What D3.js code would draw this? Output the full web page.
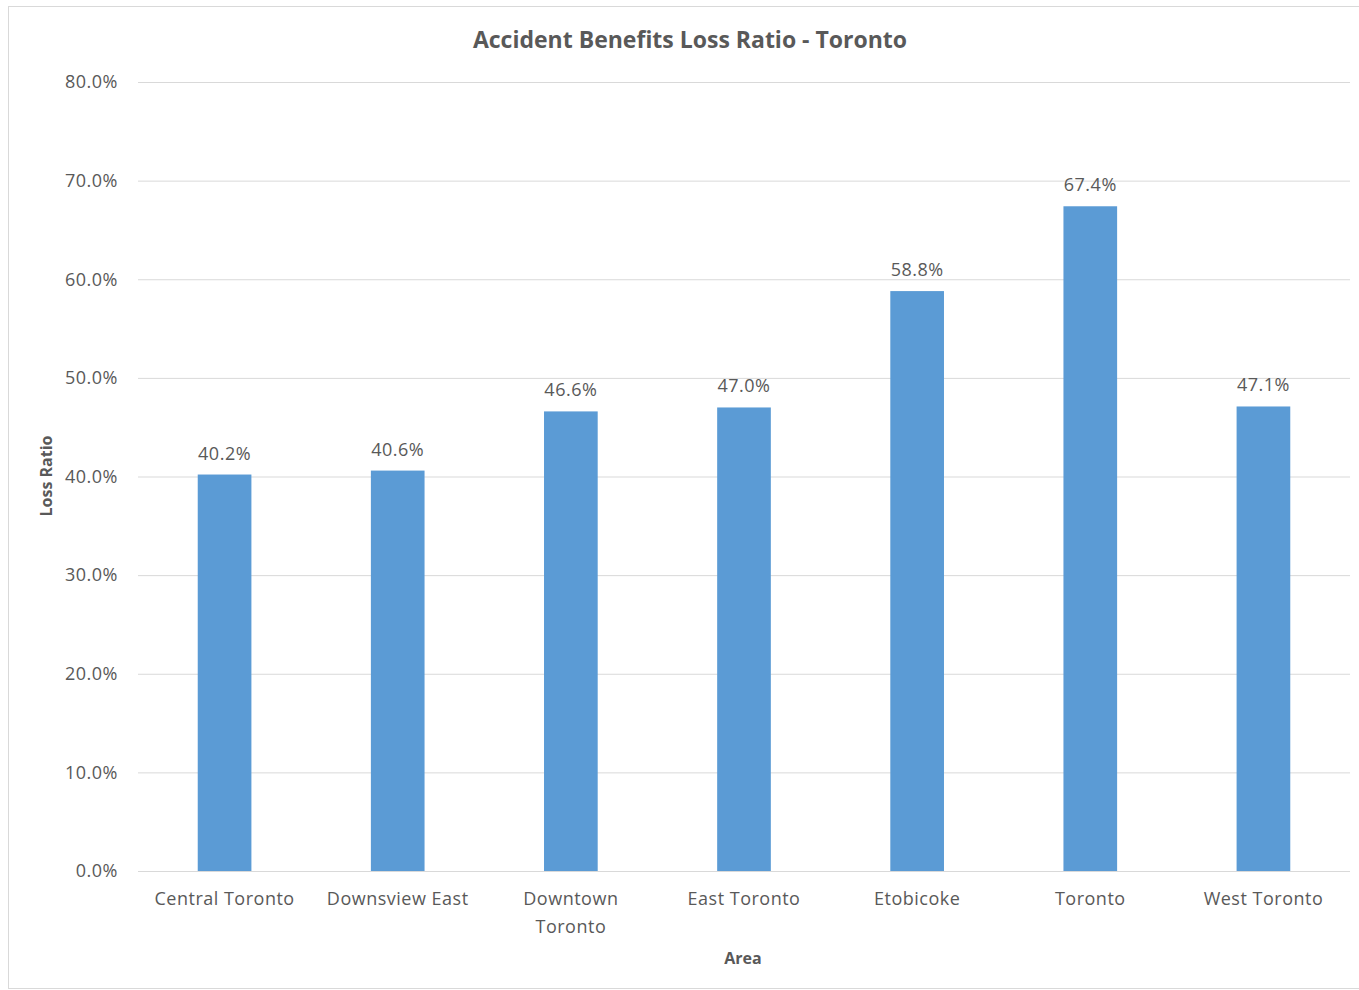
<!DOCTYPE html>
<html>
<head>
<meta charset="utf-8">
<script src="https://cdn.jsdelivr.net/npm/d3@7"></script>
<style>
  html, body { margin: 0; padding: 0; background: #fff; overflow: hidden; }
  svg { display: block; }
  text { font-family: "Open Sans", "Noto Sans", sans-serif; fill: #595959; }
</style>
</head>
<body>
<svg id="chart" width="1359" height="990"></svg>
<script>
// Loss ratio (%) by Toronto area
const areas = ["Central Toronto", "Downsview East", "Downtown Toronto", "East Toronto", "Etobicoke", "Toronto", "West Toronto"];
const lossRatio = [40.2, 40.6, 46.6, 47.0, 58.8, 67.4, 47.1];
const yTicks = [0, 10, 20, 30, 40, 50, 60, 70, 80];

const svg = d3.select("#chart");
const margin = { left: 138, right: 1350, top: 82, bottom: 871 };

// chart frame (right side runs past the page edge)
svg.append("rect")
  .attr("x", 8.5).attr("y", 6.5)
  .attr("width", 1360).attr("height", 982)
  .attr("fill", "#fff").attr("stroke", "#d9d9d9").attr("stroke-width", 1);

const x = d3.scaleBand().domain(areas).range([margin.left, margin.right]).paddingInner(0.69).paddingOuter(0.345);
const y = d3.scaleLinear().domain([0, 80]).range([margin.bottom, margin.top]);

// horizontal gridlines + y tick labels
const yAxis = d3.axisLeft(y).tickValues(yTicks).tickSize(-(margin.right - margin.left)).tickPadding(20)
  .tickFormat(d => d.toFixed(1) + "%");
const gy = svg.append("g").attr("transform", `translate(${margin.left},0)`).call(yAxis);
gy.select(".domain").remove();
gy.selectAll(".tick line").attr("stroke", "#d9d9d9").attr("stroke-width", 1);
gy.selectAll(".tick text").attr("font-size", 18).attr("fill", "#595959")
  .attr("letter-spacing", 0.5)
  .style("font-family", '"Open Sans", sans-serif');

// bars
svg.append("g").selectAll("rect").data(areas).join("rect")
  .attr("x", d => x(d))
  .attr("y", (d, i) => y(lossRatio[i]))
  .attr("width", x.bandwidth())
  .attr("height", (d, i) => y(0) - y(lossRatio[i]))
  .attr("fill", "#5b9bd5");

// value labels
svg.append("g").selectAll("text").data(areas).join("text")
  .attr("x", d => x(d) + x.bandwidth() / 2)
  .attr("y", (d, i) => y(lossRatio[i]) - 15)
  .attr("text-anchor", "middle")
  .attr("font-size", 18)
  .attr("letter-spacing", 0.5)
  .text((d, i) => lossRatio[i].toFixed(1) + "%");

// x axis baseline + category labels (wrapped)
const xAxis = d3.axisBottom(x).tickSize(0).tickPadding(0);
const gx = svg.append("g").attr("transform", `translate(0,${margin.bottom})`).call(xAxis);
gx.select(".domain").attr("stroke", "#d9d9d9").attr("d", `M${margin.left},0.5H${margin.right}`);
gx.selectAll(".tick text").remove();
gx.selectAll(".tick").each(function(d) {
  const lines = d === "Downtown Toronto" ? ["Downtown", "Toronto"] : [d];
  const t = d3.select(this).append("text")
    .attr("text-anchor", "middle")
    .attr("font-size", 18)
    .attr("letter-spacing", 0.5)
    .attr("fill", "#595959");
  lines.forEach((ln, k) => {
    t.append("tspan").attr("x", 0).attr("y", 34 + k * 28).text(ln);
  });
});

// title
svg.append("text")
  .attr("x", 690).attr("y", 48)
  .attr("text-anchor", "middle")
  .attr("font-size", 23)
  .attr("font-weight", "bold")
  .text("Accident Benefits Loss Ratio - Toronto");

// axis titles
svg.append("text")
  .attr("x", 743).attr("y", 964)
  .attr("text-anchor", "middle")
  .attr("font-size", 16)
  .attr("font-weight", "bold")
  .text("Area");

svg.append("text")
  .attr("transform", "translate(52,476) rotate(-90)")
  .attr("text-anchor", "middle")
  .attr("font-size", 16)
  .attr("font-weight", "bold")
  .text("Loss Ratio");
</script>
</body>
</html>
